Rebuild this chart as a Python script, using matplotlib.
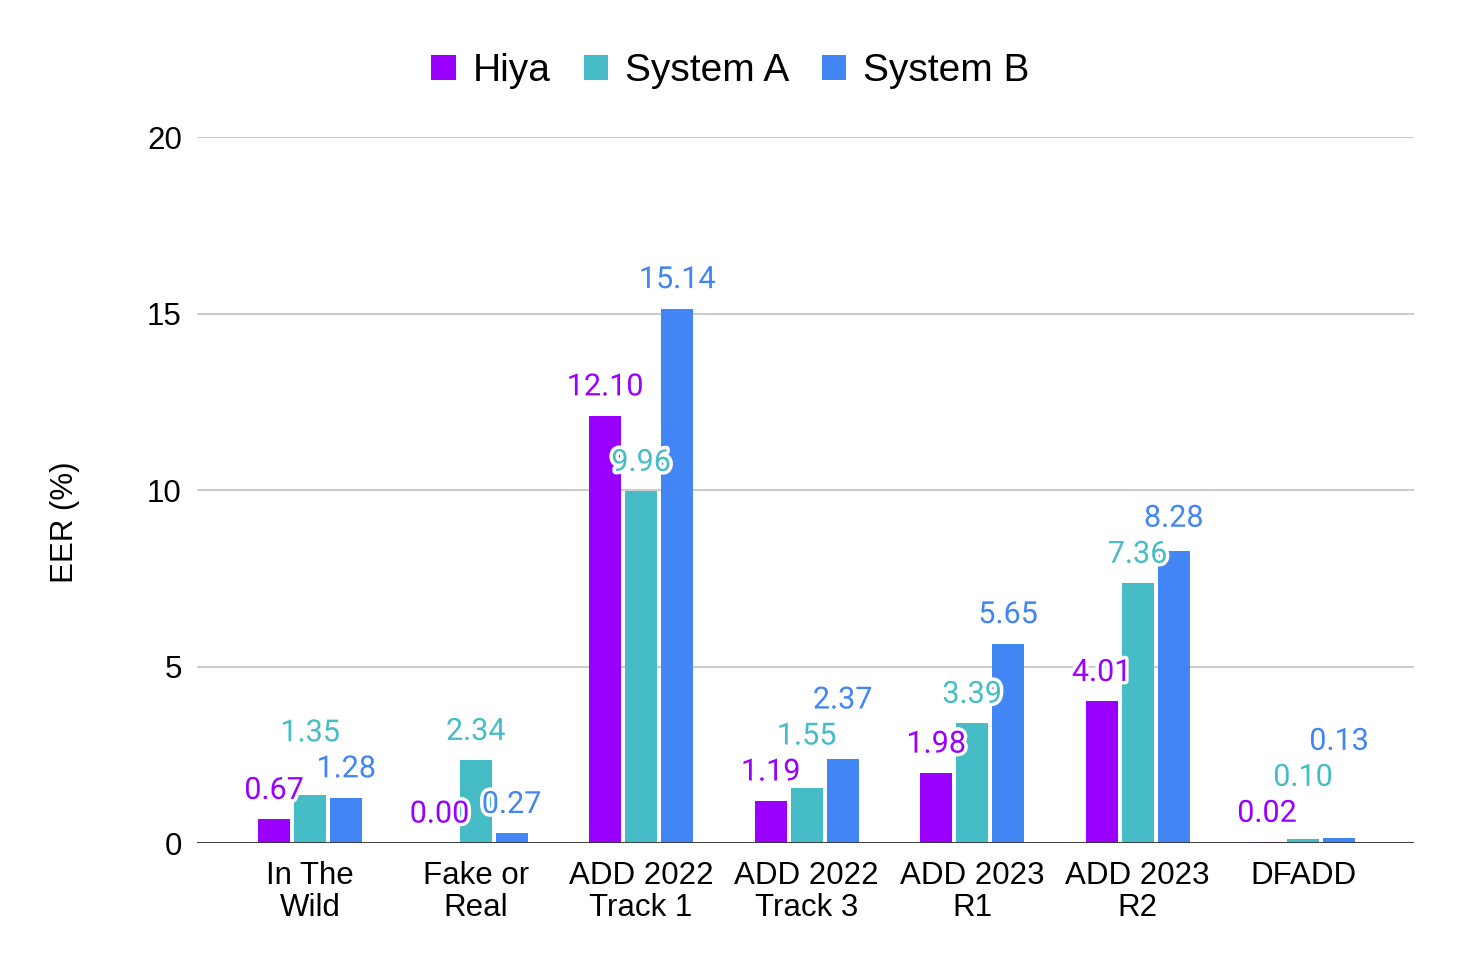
import numpy as np
import matplotlib.pyplot as plt
import matplotlib.patheffects as pe

plt.rcParams['font.family'] = ['Liberation Sans', 'DejaVu Sans']

# data
categories = ['In The\nWild', 'Fake or\nReal', 'ADD 2022\nTrack 1', 'ADD 2022\nTrack 3',
              'ADD 2023\nR1', 'ADD 2023\nR2', 'DFADD']
hiya = [0.67, 0.00, 12.10, 1.19, 1.98, 4.01, 0.02]
system_a = [1.35, 2.34, 9.96, 1.55, 3.39, 7.36, 0.10]
system_b = [1.28, 0.27, 15.14, 2.37, 5.65, 8.28, 0.13]
series_names = ['Hiya', 'System A', 'System B']
colors = ['#9900ff', '#46bdc6', '#4285f4']

series = [hiya, system_a, system_b]
x = np.arange(len(categories))
bar_w = 0.193
step = 0.2175

fig = plt.figure(figsize=(14.64, 9.72), dpi=100)
ax = fig.add_axes([0.1346, 0.1327, 0.8312, 0.7263])

for k, (vals, name, c) in enumerate(zip(series, series_names, colors)):
    ax.bar(x + (k - 1) * step, vals, bar_w, color=c, label=name, zorder=3)

ax.set_xlim(-0.683, len(categories) - 1 + 0.67)
ax.set_ylim(0, 20)
ax.set_yticks([0, 5, 10, 15, 20])
ax.yaxis.grid(True, color='#cccccc', linewidth=1.5)
ax.set_axisbelow(True)
for s in ax.spines.values():
    s.set_visible(False)
ax.axhline(0, color='#333333', linewidth=2, zorder=4)

ax.set_xticks(x)
ax.set_xticklabels(categories, fontsize=22.5, linespacing=1.08)
ax.tick_params(axis='x', length=0, pad=13)
ax.tick_params(axis='y', length=0, pad=11, labelsize=22.5)

fig.text(65 / 1464, 1 - 522 / 972, 'EER (%)', rotation=90, ha='center', va='center', fontsize=22.5)

fig.legend(loc='center', bbox_to_anchor=(0.499, 0.927), ncol=3, frameon=False, fontsize=28,
           handlelength=0.62, handleheight=0.62, handletextpad=0.44, columnspacing=0.85)

# value labels, pushed up when they collide inside a group
renderer = fig.canvas.get_renderer()
halo = [pe.withStroke(linewidth=5, foreground='white')]
gap_px = 29
h_px = 36
for i in range(len(categories)):
    items = []
    for k, (vals, c) in enumerate(zip(series, colors)):
        xp = x[i] + (k - 1) * step
        t = ax.text(xp, vals[i], f'{vals[i]:.2f}', ha='center', va='center', fontsize=22,
                    family='Roboto', color=c, path_effects=halo, zorder=5)
        px, py = ax.transData.transform((xp, vals[i]))
        w = t.get_window_extent(renderer).width
        items.append([t, px, py + gap_px, w])
    items.sort(key=lambda it: it[2])
    placed = []
    for it in items:
        moved = True
        while moved:
            moved = False
            for p in placed:
                if abs(it[1] - p[1]) < (it[3] + p[3]) / 2 and abs(it[2] - p[2]) < h_px:
                    it[2] = p[2] + h_px
                    moved = True
        placed.append(it)
        it[0].set_position(ax.transData.inverted().transform((it[1], it[2])))

fig.savefig('out.png', dpi=100)
